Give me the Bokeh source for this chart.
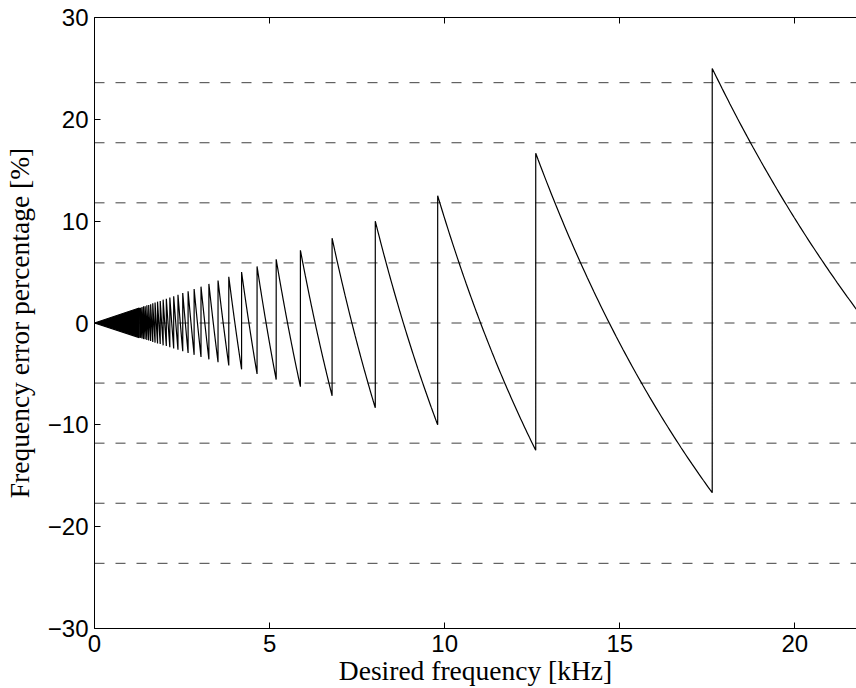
import numpy as np
from bokeh.plotting import figure
from bokeh.models import Range1d, LinearAxis, Span, FixedTicker
from bokeh.embed import file_html
from bokeh.resources import INLINE

# Achievable output frequencies (kHz): each tooth's zero crossing, high -> low
output_khz = [22.05, 14.7, 11.025, 8.82, 7.35, 6.3, 5.5125, 4.9, 4.41, 4.009,
              3.675, 3.392, 3.15, 2.94, 2.756, 2.594, 2.45, 2.321, 2.205, 2.1,
              2.005, 1.917, 1.838, 1.764, 1.696, 1.633, 1.575, 1.521, 1.47,
              1.423, 1.378, 1.336, 1.297, 1.26]
x_max_khz = 22.05
# densely packed teeth near 0 kHz (appear as a solid wedge)
wedge_khz = [0.0, 1.278, 1.278]
wedge_pct = [0.0, 1.47, -1.43]
# dashed reference levels (%)
guide_pct = [-23.6, -17.7, -11.8, -5.9, 0.0, 5.9, 11.8, 17.7, 23.6]
x_ticks = [0, 5, 10, 15, 20]
y_ticks = [-30, -20, -10, 0, 10, 20, 30]
y_tick_labels = {-30: "\u221230", -20: "\u221220", -10: "\u221210", 0: "0",
                 10: "10", 20: "20", 30: "30"}

# build the sawtooth: desired frequency swept across each tooth
teeth = []
for i in range(len(output_khz) - 1):
    level = output_khz[i]
    lo = 2 * level * output_khz[i + 1] / (level + output_khz[i + 1])
    hi = x_max_khz if i == 0 else 2 * level * output_khz[i - 1] / (level + output_khz[i - 1])
    xs = np.linspace(lo, hi, 80)
    teeth.append((xs, 100.0 * (level / xs - 1.0)))
teeth.reverse()
curve_x = np.concatenate([t[0] for t in teeth])
curve_y = np.concatenate([t[1] for t in teeth])

p = figure(width=856, height=688, x_range=Range1d(0, 21.76), y_range=Range1d(-30, 30),
           output_backend="svg", toolbar_location=None,
           x_axis_location=None, y_axis_location=None,
           min_border_left=93, min_border_top=17, min_border_bottom=60, min_border_right=0)
p.outline_line_color = None
p.grid.visible = False
p.background_fill_color = "white"
p.border_fill_color = "white"

for v in guide_pct:
    p.add_layout(Span(location=v, dimension="width", line_color="#404040",
                      line_width=1, line_dash="10 11", level="underlay"))

p.patch(wedge_khz, wedge_pct, fill_color="black", line_color="black", line_width=1.2)
p.line(curve_x, curve_y, line_color="black", line_width=1.2)

bottom = LinearAxis(ticker=FixedTicker(ticks=x_ticks), axis_label="Desired frequency [kHz]")
top = LinearAxis(ticker=FixedTicker(ticks=x_ticks),
                 major_label_overrides={t: "" for t in x_ticks})
left = LinearAxis(ticker=FixedTicker(ticks=y_ticks), major_label_overrides=y_tick_labels,
                  axis_label="Frequency error percentage [%]")

for ax in [bottom, top, left]:
    ax.major_tick_in = 6
    ax.major_tick_out = 0
    ax.minor_tick_line_color = None
    ax.axis_line_color = "black"
    ax.axis_line_width = 1
    ax.major_tick_line_color = "black"
    ax.major_label_text_font = "Liberation Sans"
    ax.major_label_text_font_size = "24px"
    ax.major_label_text_color = "black"
    ax.axis_label_text_font = "Liberation Serif"
    ax.axis_label_text_font_size = "27.5px"
    ax.axis_label_text_font_style = "normal"
    ax.axis_label_text_color = "black"

top.major_label_standoff = 0
bottom.major_label_standoff = 6
bottom.axis_label_standoff = 0
left.major_label_standoff = 6
left.axis_label_standoff = 10

p.add_layout(bottom, "below")
p.add_layout(top, "above")
p.add_layout(left, "left")

open("out.html", "w").write(file_html(p, INLINE))
